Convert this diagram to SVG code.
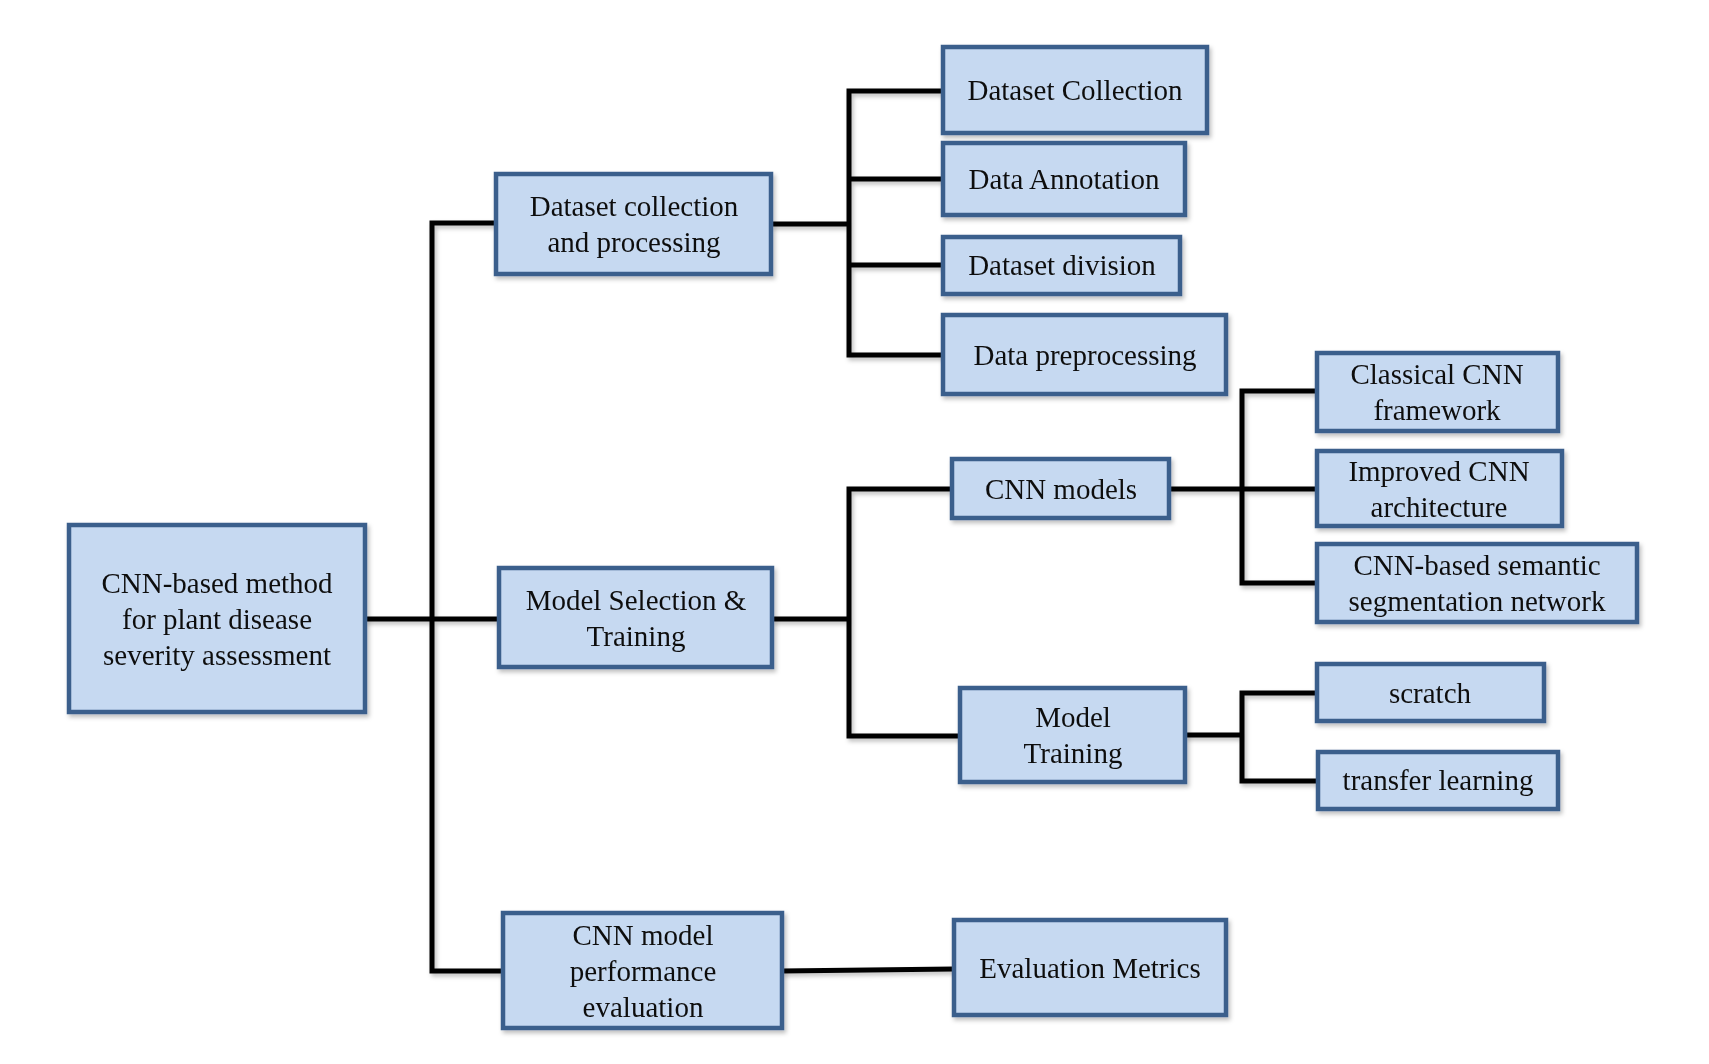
<svg xmlns="http://www.w3.org/2000/svg" width="1709" height="1064" viewBox="0 0 1709 1064">
<defs>
<filter id="sh" x="-10%" y="-10%" width="120%" height="130%">
<feDropShadow dx="2" dy="3" stdDeviation="2" flood-color="#000" flood-opacity="0.25"/>
</filter>
</defs>
<style>
.box{fill:#c6d9f1;stroke:#3a5e8c;stroke-width:4.5}
.t{font-family:"Liberation Serif","Times New Roman",serif;font-size:29px;fill:#111;text-anchor:middle}
.c{fill:none;stroke:#000;stroke-width:5;stroke-linejoin:miter;stroke-linecap:butt}
</style>
<rect width="1709" height="1064" fill="#fff"/>
<g id="connectors" filter="url(#sh)">
<path class="c" d="M365 619H499"/>
<path class="c" d="M496 223H432V971H503"/>
<path class="c" d="M771 224H849"/>
<path class="c" d="M943 91H849V355H943"/>
<path class="c" d="M849 179H943M849 265H943"/>
<path class="c" d="M772 619H849"/>
<path class="c" d="M952 489H849V736H960"/>
<path class="c" d="M1169 489H1317"/>
<path class="c" d="M1317 391H1242V583H1317"/>
<path class="c" d="M1185 735H1242"/>
<path class="c" d="M1317 693H1242V781H1318"/>
<path class="c" d="M782 971L954 969"/>
</g>
<g id="root" filter="url(#sh)"><rect class="box" x="69" y="525" width="296" height="187"/>
<text class="t" x="217" y="593">CNN-based method</text><text class="t" x="217" y="629">for plant disease</text><text class="t" x="217" y="665">severity assessment</text></g>
<g id="dataset-processing" filter="url(#sh)"><rect class="box" x="496" y="174" width="275" height="100"/>
<text class="t" x="634" y="216">Dataset collection</text><text class="t" x="634" y="252">and processing</text></g>
<g id="model-selection" filter="url(#sh)"><rect class="box" x="499" y="568" width="273" height="99"/>
<text class="t" x="636" y="610">Model Selection &amp;</text><text class="t" x="636" y="646">Training</text></g>
<g id="performance" filter="url(#sh)"><rect class="box" x="503" y="913" width="279" height="115"/>
<text class="t" x="643" y="945">CNN model</text><text class="t" x="643" y="981">performance</text><text class="t" x="643" y="1017">evaluation</text></g>
<g id="dataset-collection" filter="url(#sh)"><rect class="box" x="943" y="47" width="264" height="86"/>
<text class="t" x="1075" y="100">Dataset Collection</text></g>
<g id="data-annotation" filter="url(#sh)"><rect class="box" x="943" y="143" width="242" height="72"/>
<text class="t" x="1064" y="189">Data Annotation</text></g>
<g id="dataset-division" filter="url(#sh)"><rect class="box" x="943" y="237" width="237" height="57"/>
<text class="t" x="1062" y="275">Dataset division</text></g>
<g id="data-preprocessing" filter="url(#sh)"><rect class="box" x="943" y="315" width="283" height="79"/>
<text class="t" x="1085" y="365">Data preprocessing</text></g>
<g id="cnn-models" filter="url(#sh)"><rect class="box" x="952" y="459" width="217" height="59"/>
<text class="t" x="1061" y="499">CNN models</text></g>
<g id="model-training" filter="url(#sh)"><rect class="box" x="960" y="688" width="225" height="94"/>
<text class="t" x="1073" y="727">Model</text><text class="t" x="1073" y="763">Training</text></g>
<g id="classical-cnn" filter="url(#sh)"><rect class="box" x="1317" y="353" width="241" height="78"/>
<text class="t" x="1437" y="384">Classical CNN</text><text class="t" x="1437" y="420">framework</text></g>
<g id="improved-cnn" filter="url(#sh)"><rect class="box" x="1317" y="451" width="245" height="75"/>
<text class="t" x="1439" y="481">Improved CNN</text><text class="t" x="1439" y="517">architecture</text></g>
<g id="semantic-seg" filter="url(#sh)"><rect class="box" x="1317" y="544" width="320" height="78"/>
<text class="t" x="1477" y="575">CNN-based semantic</text><text class="t" x="1477" y="611">segmentation network</text></g>
<g id="scratch" filter="url(#sh)"><rect class="box" x="1317" y="664" width="227" height="57"/>
<text class="t" x="1430" y="703">scratch</text></g>
<g id="transfer-learning" filter="url(#sh)"><rect class="box" x="1318" y="752" width="240" height="57"/>
<text class="t" x="1438" y="790">transfer learning</text></g>
<g id="evaluation-metrics" filter="url(#sh)"><rect class="box" x="954" y="920" width="272" height="95"/>
<text class="t" x="1090" y="978">Evaluation Metrics</text></g>
</svg>
